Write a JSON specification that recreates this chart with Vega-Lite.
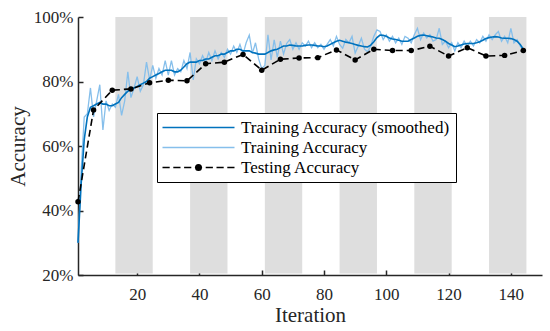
{
  "$schema": "https://vega.github.io/schema/vega-lite/v6.json",
  "width": 464,
  "height": 258,
  "autosize": {"type": "none"},
  "padding": {"left": 78, "top": 17, "right": 8, "bottom": 56},
  "background": "white",
  "config": {
    "view": {"stroke": null},
    "font": "Liberation Serif",
    "axis": {
      "grid": false,
      "domainColor": "#262626",
      "domainWidth": 1.5,
      "tickColor": "#262626",
      "tickWidth": 1.5,
      "tickSize": -5,
      "labelFont": "Liberation Serif",
      "labelFontSize": 17,
      "labelColor": "#262626",
      "titleFont": "Liberation Serif",
      "titleFontSize": 21,
      "titleFontWeight": "normal",
      "titleColor": "#262626"
    }
  },
  "datasets": {
    "train": [
      {"it":1,"raw":30,"sm":30},{"it":2,"raw":52,"sm":48},{"it":3,"raw":69,"sm":62},{"it":4,"raw":70,"sm":69},{"it":5,"raw":78,"sm":72},
      {"it":6,"raw":69,"sm":72.5},{"it":7,"raw":74,"sm":73},{"it":8,"raw":79,"sm":73.5},{"it":9,"raw":65,"sm":73},{"it":10,"raw":74,"sm":73},
      {"it":11,"raw":71,"sm":72.5},{"it":12,"raw":73,"sm":72.5},{"it":13,"raw":72,"sm":73},{"it":14,"raw":76,"sm":73.5},{"it":15,"raw":69.5,"sm":75},
      {"it":16,"raw":74,"sm":76},{"it":17,"raw":83,"sm":77},{"it":18,"raw":75,"sm":77.5},{"it":19,"raw":78,"sm":78},{"it":20,"raw":81.5,"sm":78.5},
      {"it":21,"raw":77,"sm":79},{"it":22,"raw":79,"sm":79.5},{"it":23,"raw":86,"sm":80},{"it":24,"raw":80.5,"sm":81},{"it":25,"raw":85,"sm":81.5},
      {"it":26,"raw":81,"sm":82},{"it":27,"raw":84,"sm":82.5},{"it":28,"raw":82,"sm":83},{"it":29,"raw":86.5,"sm":83.5},{"it":30,"raw":82,"sm":83.5},
      {"it":31,"raw":86.5,"sm":83.5},{"it":32,"raw":82,"sm":83},{"it":33,"raw":84,"sm":83},{"it":34,"raw":83,"sm":83.5},{"it":35,"raw":86.5,"sm":84.5},
      {"it":36,"raw":84,"sm":85.5},{"it":37,"raw":89,"sm":86},{"it":38,"raw":80.5,"sm":86},{"it":39,"raw":87,"sm":86},{"it":40,"raw":85.5,"sm":86.5},
      {"it":41,"raw":88,"sm":86.5},{"it":42,"raw":86,"sm":87},{"it":43,"raw":89,"sm":87},{"it":44,"raw":86.5,"sm":87.5},{"it":45,"raw":89.5,"sm":88},
      {"it":46,"raw":87,"sm":88},{"it":47,"raw":89,"sm":88.5},{"it":48,"raw":87.5,"sm":88.5},{"it":49,"raw":90,"sm":89},{"it":50,"raw":88.5,"sm":89.5},
      {"it":51,"raw":91,"sm":89.5},{"it":52,"raw":89,"sm":90},{"it":53,"raw":91.5,"sm":90},{"it":54,"raw":88.5,"sm":89.5},{"it":55,"raw":92,"sm":89.5},
      {"it":56,"raw":94.4,"sm":89.5},{"it":57,"raw":88.7,"sm":89},{"it":58,"raw":92,"sm":88.8},{"it":59,"raw":87,"sm":88.5},{"it":60,"raw":84,"sm":88.5},
      {"it":61,"raw":85,"sm":88.5},{"it":62,"raw":94.5,"sm":89},{"it":63,"raw":86.7,"sm":89.5},{"it":64,"raw":92.9,"sm":89.8},{"it":65,"raw":87.5,"sm":90},
      {"it":66,"raw":92.5,"sm":90.5},{"it":67,"raw":88.5,"sm":91},{"it":68,"raw":91.8,"sm":91},{"it":69,"raw":93,"sm":91.3},{"it":70,"raw":90,"sm":91.2},
      {"it":71,"raw":92,"sm":91},{"it":72,"raw":90,"sm":91},{"it":73,"raw":92,"sm":91},{"it":74,"raw":91,"sm":91.2},{"it":75,"raw":92.5,"sm":91.3},
      {"it":76,"raw":90.5,"sm":91.3},{"it":77,"raw":92,"sm":91.2},{"it":78,"raw":90.5,"sm":91},{"it":79,"raw":91.5,"sm":91},{"it":80,"raw":90,"sm":90.8},
      {"it":81,"raw":91.5,"sm":91},{"it":82,"raw":93,"sm":91.5},{"it":83,"raw":91,"sm":92},{"it":84,"raw":94,"sm":92.5},{"it":85,"raw":91.5,"sm":92.8},
      {"it":86,"raw":90.3,"sm":92.5},{"it":87,"raw":93,"sm":92.2},{"it":88,"raw":92,"sm":92},{"it":89,"raw":94,"sm":91.8},{"it":90,"raw":88.8,"sm":91.5},
      {"it":91,"raw":91,"sm":91.2},{"it":92,"raw":93.4,"sm":91},{"it":93,"raw":90,"sm":90.8},{"it":94,"raw":89.2,"sm":90.7},{"it":95,"raw":91,"sm":91.3},
      {"it":96,"raw":94,"sm":92.3},{"it":97,"raw":96,"sm":93.6},{"it":98,"raw":95.5,"sm":94.4},{"it":99,"raw":93,"sm":94.3},{"it":100,"raw":94.5,"sm":94},
      {"it":101,"raw":92.5,"sm":93.5},{"it":102,"raw":94,"sm":93.2},{"it":103,"raw":92,"sm":93},{"it":104,"raw":93.5,"sm":92.8},{"it":105,"raw":91.5,"sm":92.5},
      {"it":106,"raw":94,"sm":92.5},{"it":107,"raw":93.4,"sm":92.5},{"it":108,"raw":92,"sm":93},{"it":109,"raw":94.5,"sm":93.5},{"it":110,"raw":96.5,"sm":94},
      {"it":111,"raw":93,"sm":94.3},{"it":112,"raw":95,"sm":94.4},{"it":113,"raw":93.5,"sm":94.2},{"it":114,"raw":94.5,"sm":94},{"it":115,"raw":92.5,"sm":93.8},
      {"it":116,"raw":93,"sm":93.5},{"it":117,"raw":96.5,"sm":93.4},{"it":118,"raw":91.5,"sm":93},{"it":119,"raw":92.5,"sm":92.5},{"it":120,"raw":90.5,"sm":91.8},
      {"it":121,"raw":92,"sm":91.3},{"it":122,"raw":89.5,"sm":90.8},{"it":123,"raw":92,"sm":91},{"it":124,"raw":90.5,"sm":91.3},{"it":125,"raw":92.5,"sm":91.6},
      {"it":126,"raw":91,"sm":91.8},{"it":127,"raw":92.5,"sm":91.8},{"it":128,"raw":91,"sm":91.8},{"it":129,"raw":93,"sm":92},{"it":130,"raw":92,"sm":92.3},
      {"it":131,"raw":94,"sm":92.8},{"it":132,"raw":92.5,"sm":93.3},{"it":133,"raw":94.5,"sm":93.6},{"it":134,"raw":93,"sm":93.8},{"it":135,"raw":94.5,"sm":93.9},
      {"it":136,"raw":95.5,"sm":93.8},{"it":137,"raw":92.5,"sm":93.5},{"it":138,"raw":94,"sm":93.4},{"it":139,"raw":92,"sm":93.4},{"it":140,"raw":96.5,"sm":93.3},
      {"it":141,"raw":92,"sm":93},{"it":142,"raw":93,"sm":92.5},{"it":143,"raw":91,"sm":91.5},{"it":144,"raw":89.5,"sm":90}
    ],
    "test": [
      {"it":1,"acc":42.7},{"it":6,"acc":71.2},{"it":12,"acc":77.3},{"it":18,"acc":77.7},{"it":24,"acc":79.6},
      {"it":30,"acc":80.4},{"it":36,"acc":80.2},{"it":42,"acc":85.5},{"it":48,"acc":86},{"it":54,"acc":88.4},
      {"it":60,"acc":83.5},{"it":66,"acc":86.9},{"it":72,"acc":87.3},{"it":78,"acc":87.4},{"it":84,"acc":89.8},
      {"it":90,"acc":86.7},{"it":96,"acc":90},{"it":102,"acc":89.6},{"it":108,"acc":89.6},{"it":114,"acc":90.9},
      {"it":120,"acc":87.9},{"it":126,"acc":90.5},{"it":132,"acc":87.9},{"it":138,"acc":88.1},{"it":144,"acc":89.6}
    ],
    "bands": [
      {"s":13,"e":25},{"s":37,"e":49},{"s":61,"e":73},{"s":85,"e":97},{"s":109,"e":121},{"s":133,"e":145}
    ]
  },
  "layer": [
    {
      "data": {"name": "bands"},
      "mark": {"type": "rect", "color": "#DEDEDE"},
      "encoding": {
        "x": {"field": "s", "type": "quantitative", "scale": {"domain": [1, 150], "nice": false, "zero": false},
              "axis": {"values": [20, 40, 60, 80, 100, 120, 140], "title": "Iteration", "labelPadding": 16, "titlePadding": 2,
                       "labelFont": "Liberation Serif", "labelFontSize": 17, "titleFont": "Liberation Serif"}},
        "x2": {"field": "e"},
        "y": {"datum": 100, "type": "quantitative", "scale": {"domain": [20, 100], "nice": false, "zero": false},
              "axis": {"values": [20, 40, 60, 80, 100], "labelExpr": "datum.value + '%'", "title": "Accuracy", "labelPadding": 10, "titlePadding": 5,
                       "labelFont": "Liberation Serif", "labelFontSize": 17, "titleFont": "Liberation Serif"}},
        "y2": {"datum": 20.5}
      }
    },
    {
      "data": {"name": "train"},
      "mark": {"type": "line", "strokeWidth": 1.3},
      "encoding": {
        "x": {"field": "it", "type": "quantitative"},
        "y": {"field": "raw", "type": "quantitative"},
        "color": {
          "datum": "Training Accuracy", "type": "nominal",
          "scale": {"domain": ["Training Accuracy (smoothed)", "Training Accuracy", "Testing Accuracy"], "range": ["#0072BD", "#86BFEB", "#000000"]},
          "legend": {
            "title": null,
            "orient": "none",
            "legendX": 79,
            "legendY": 96,
            "padding": 6,
            "fillColor": "white",
            "strokeColor": "#000000",
            "labelFont": "Liberation Serif",
            "labelFontSize": 17,
            "labelColor": "#000000",
            "labelLimit": 400,
            "labelOffset": 61,
            "symbolSize": 324,
            "symbolStrokeWidth": 1.5,
            "rowPadding": 2,
            "encode": {
              "symbols": {
                "update": {
                  "shape": {"signal": "datum.value === 'Testing Accuracy' ? 'M-1,0H-0.2M0.2,0H1M1.4,0H2.2M2.6,0H3.4M3.8,0H4.6M5,0H5.8M6.2,0H7M2.7,0A0.3,0.3 0 1,0 3.3,0A0.3,0.3 0 1,0 2.7,0Z' : 'M-1,0H7'"},
                  "fill": {"signal": "datum.value === 'Testing Accuracy' ? '#000000' : 'transparent'"},
                  "strokeWidth": {"signal": "datum.value === 'Training Accuracy' ? 1.3 : 1.6"}
                }
              }
            }
          }
        }
      }
    },
    {
      "data": {"name": "train"},
      "mark": {"type": "line", "strokeWidth": 1.6},
      "encoding": {
        "x": {"field": "it", "type": "quantitative"},
        "y": {"field": "sm", "type": "quantitative"},
        "color": {"datum": "Training Accuracy (smoothed)", "type": "nominal"}
      }
    },
    {
      "data": {"name": "test"},
      "mark": {"type": "line", "strokeWidth": 1.6, "strokeDash": [7, 4], "point": {"filled": true, "size": 30}},
      "encoding": {
        "x": {"field": "it", "type": "quantitative"},
        "y": {"field": "acc", "type": "quantitative"},
        "color": {"datum": "Testing Accuracy", "type": "nominal"}
      }
    }
  ]
}
